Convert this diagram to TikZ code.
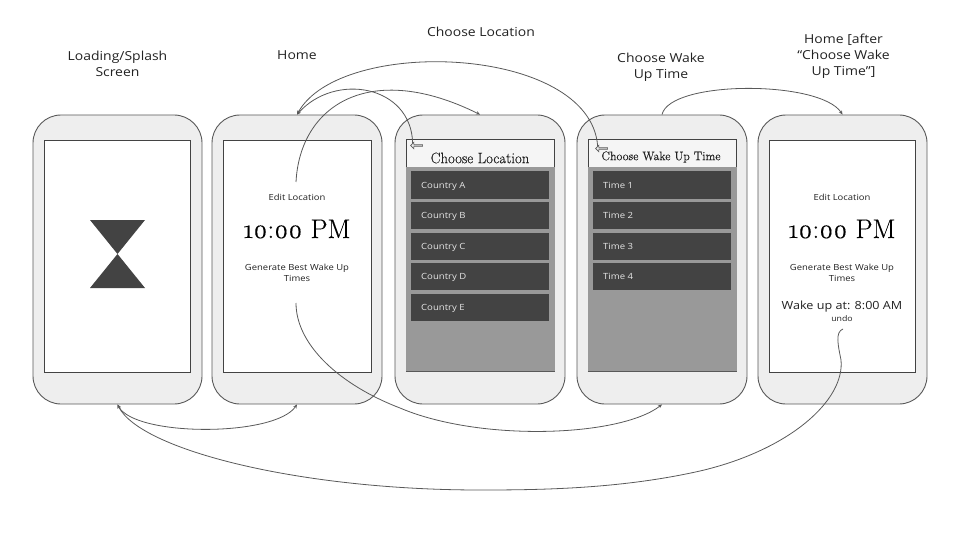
\documentclass[tikz,border=0pt]{standalone}
\usepackage{fontspec}
\setmainfont[FakeStretch=1.125]{Open Sans}
\newfontfamily\playfont[Numbers=OldStyle,FakeBold=0.25]{Latin Modern Roman}
\newfontfamily\titlefont[FakeBold=0.3,FakeStretch=0.97]{Latin Modern Roman}
\usetikzlibrary{arrows.meta,shapes.arrows}
\definecolor{linegray}{HTML}{595959}
\definecolor{darkitem}{HTML}{434343}
\definecolor{midgray}{HTML}{999999}
\definecolor{bodygray}{HTML}{EEEEEE}
\definecolor{inktext}{HTML}{222222}
\tikzset{
  phone/.style={draw=linegray,fill=bodygray,rounded corners=28pt,minimum width=169pt,minimum height=289pt,inner sep=0pt,line width=0.9pt},
  screen/.style={draw=inktext!85,fill=white,minimum width=147pt,minimum height=232pt,inner sep=0pt,line width=0.9pt},
  panel/.style={fill=midgray,minimum width=149pt,minimum height=204pt,inner sep=0pt},
  item/.style={fill=darkitem,minimum width=138pt,minimum height=27pt,inner sep=0pt},
  itemtext/.style={anchor=base west,text=white!90!black,font=\fontsize{8.5}{10}\selectfont,inner sep=0pt},
  heading/.style={align=center,text=inktext,font=\fontsize{12.4}{16}\selectfont,inner sep=0pt},
  small/.style={align=center,text=inktext,font=\fontsize{8.4}{11}\selectfont,inner sep=0pt},
  serif/.style={text=inktext,inner sep=0pt,font=\titlefont\fontsize{15.2}{16}\selectfont},
  clock/.style={text=black,inner sep=0pt,font=\playfont\fontsize{27}{30}\selectfont},
  back/.style={draw=linegray,fill=bodygray,shape=single arrow,shape border rotate=180,minimum height=12pt,minimum width=6.5pt,single arrow head extend=1.2pt,inner sep=0pt,line width=0.7pt},
  flow/.style={draw=linegray,line width=0.8pt,-{Stealth[length=4pt,width=3.5pt]}}
}
\begin{document}
\begin{tikzpicture}[x=1pt,y=-1pt]
\useasboundingbox (0,0) rectangle (960,540);

\node[phone] (splash) at (117.5,259.5) {};
\node[phone,minimum width=170pt] (home) at (297,259.5) {};
\node[phone,minimum width=170pt] (location) at (480,259.5) {};
\node[phone,minimum width=170pt] (wake) at (662,259.5) {};
\node[phone] (wakehome) at (842.5,259.5) {};

\node[screen,minimum width=146pt] (splashscreen) at (117,256) {};
\node[screen,minimum width=148pt] (homescreen) at (297,256) {};
\node[screen,minimum width=148pt,fill=bodygray!60!white] (locationscreen) at (480,255.5) {};
\node[screen,minimum width=148pt,fill=bodygray!60!white] (wakescreen) at (662,255.5) {};
\node[screen,minimum width=146pt] (wakehomescreen) at (842,256) {};

\fill[darkitem] (90,220) -- (145,220) -- (117.5,254) -- (145,288) -- (90,288) -- (117.5,254) -- cycle;

\node[panel] (locationpanel) at (480.5,269) {};
\node[panel] (wakepanel) at (662.5,269) {};
\draw[linegray,line width=1.2pt] (locationpanel.south west) -- (locationpanel.south east);
\draw[linegray,line width=1.2pt] (wakepanel.south west) -- (wakepanel.south east);

\foreach \name/\y in {A/185,B/215,C/246,D/276.5,E/307.5} {
  \node[item] (country\name) at (480,\y) {};
  \node[itemtext] at (421,\y+3) {Country \name};
}
\foreach \n/\y in {1/185,2/215,3/246,4/276.5} {
  \node[item] (time\n) at (662,\y) {};
  \node[itemtext] at (603,\y+3) {Time \n};
}

\node[serif] (locationtitle) at (480,158) {Choose Location};
\node[serif,font=\titlefont\fontsize{12.4}{16}\selectfont] (waketitle) at (661,157) {Choose Wake Up Time};
\node[back] (backlocation) at (417,145.5) {};
\node[back] (backwake) at (602,148.5) {};

\node[small] (edithome) at (297,197) {Edit Location};
\node[clock] (clockhome) at (297,229) {10:00 PM};
\node[small] (generatehome) at (297,272.5) {Generate Best Wake Up\\Times};
\node[small] (editwake) at (842,197) {Edit Location};
\node[clock] (clockwake) at (842,229) {10:00 PM};
\node[small] (generatewake) at (842,272.5) {Generate Best Wake Up\\Times};
\node[heading,font=\fontsize{11.2}{13}\selectfont] (wakeup) at (842,307) {Wake up at: 8:00 AM};
\node[small,font=\fontsize{7.8}{9}\selectfont] (undo) at (842,319) {undo};

\node[heading] (splashlabel) at (117.5,63.5) {Loading/Splash\\Screen};
\node[heading] (homelabel) at (297,55) {Home};
\node[heading] (locationlabel) at (481,31.5) {Choose Location};
\node[heading] (wakelabel) at (661,67) {Choose Wake\\Up Time};
\node[heading] (wakehomelabel) at (843.5,56) {Home [after\\“Choose Wake\\Up Time”]};

\coordinate (editgo) at (296,182);
\coordinate (generatego) at (296,303);
\coordinate (undogo) at (843,329);

\draw[flow] (editgo) .. controls (300,105) and (370,60) .. (location.north);
\draw[flow] (backlocation.150) .. controls (411,85) and (335,72) .. (home.north);
\draw[flow] (backwake.150) .. controls (590,45) and (340,36) .. (home.north);
\draw[flow] (generatego) .. controls (296,345) and (340,385) .. (400,408) .. controls (480,442) and (620,437) .. (wake.south);
\draw[flow] (wake.north) .. controls (670,80) and (820,80) .. (wakehome.north);
\draw[flow,{Stealth[length=4pt,width=3.5pt]}-{Stealth[length=4pt,width=3.5pt]}] (splash.south) .. controls (135,437) and (275,437) .. (home.south);
\draw[flow] (undogo) .. controls (835,332) and (838,345) .. (841,360) .. controls (845,400) and (790,450) .. (700,471) .. controls (620,489) and (540,490) .. (480,490) .. controls (300,490) and (140,450) .. (splash.south);
\end{tikzpicture}
\end{document}
